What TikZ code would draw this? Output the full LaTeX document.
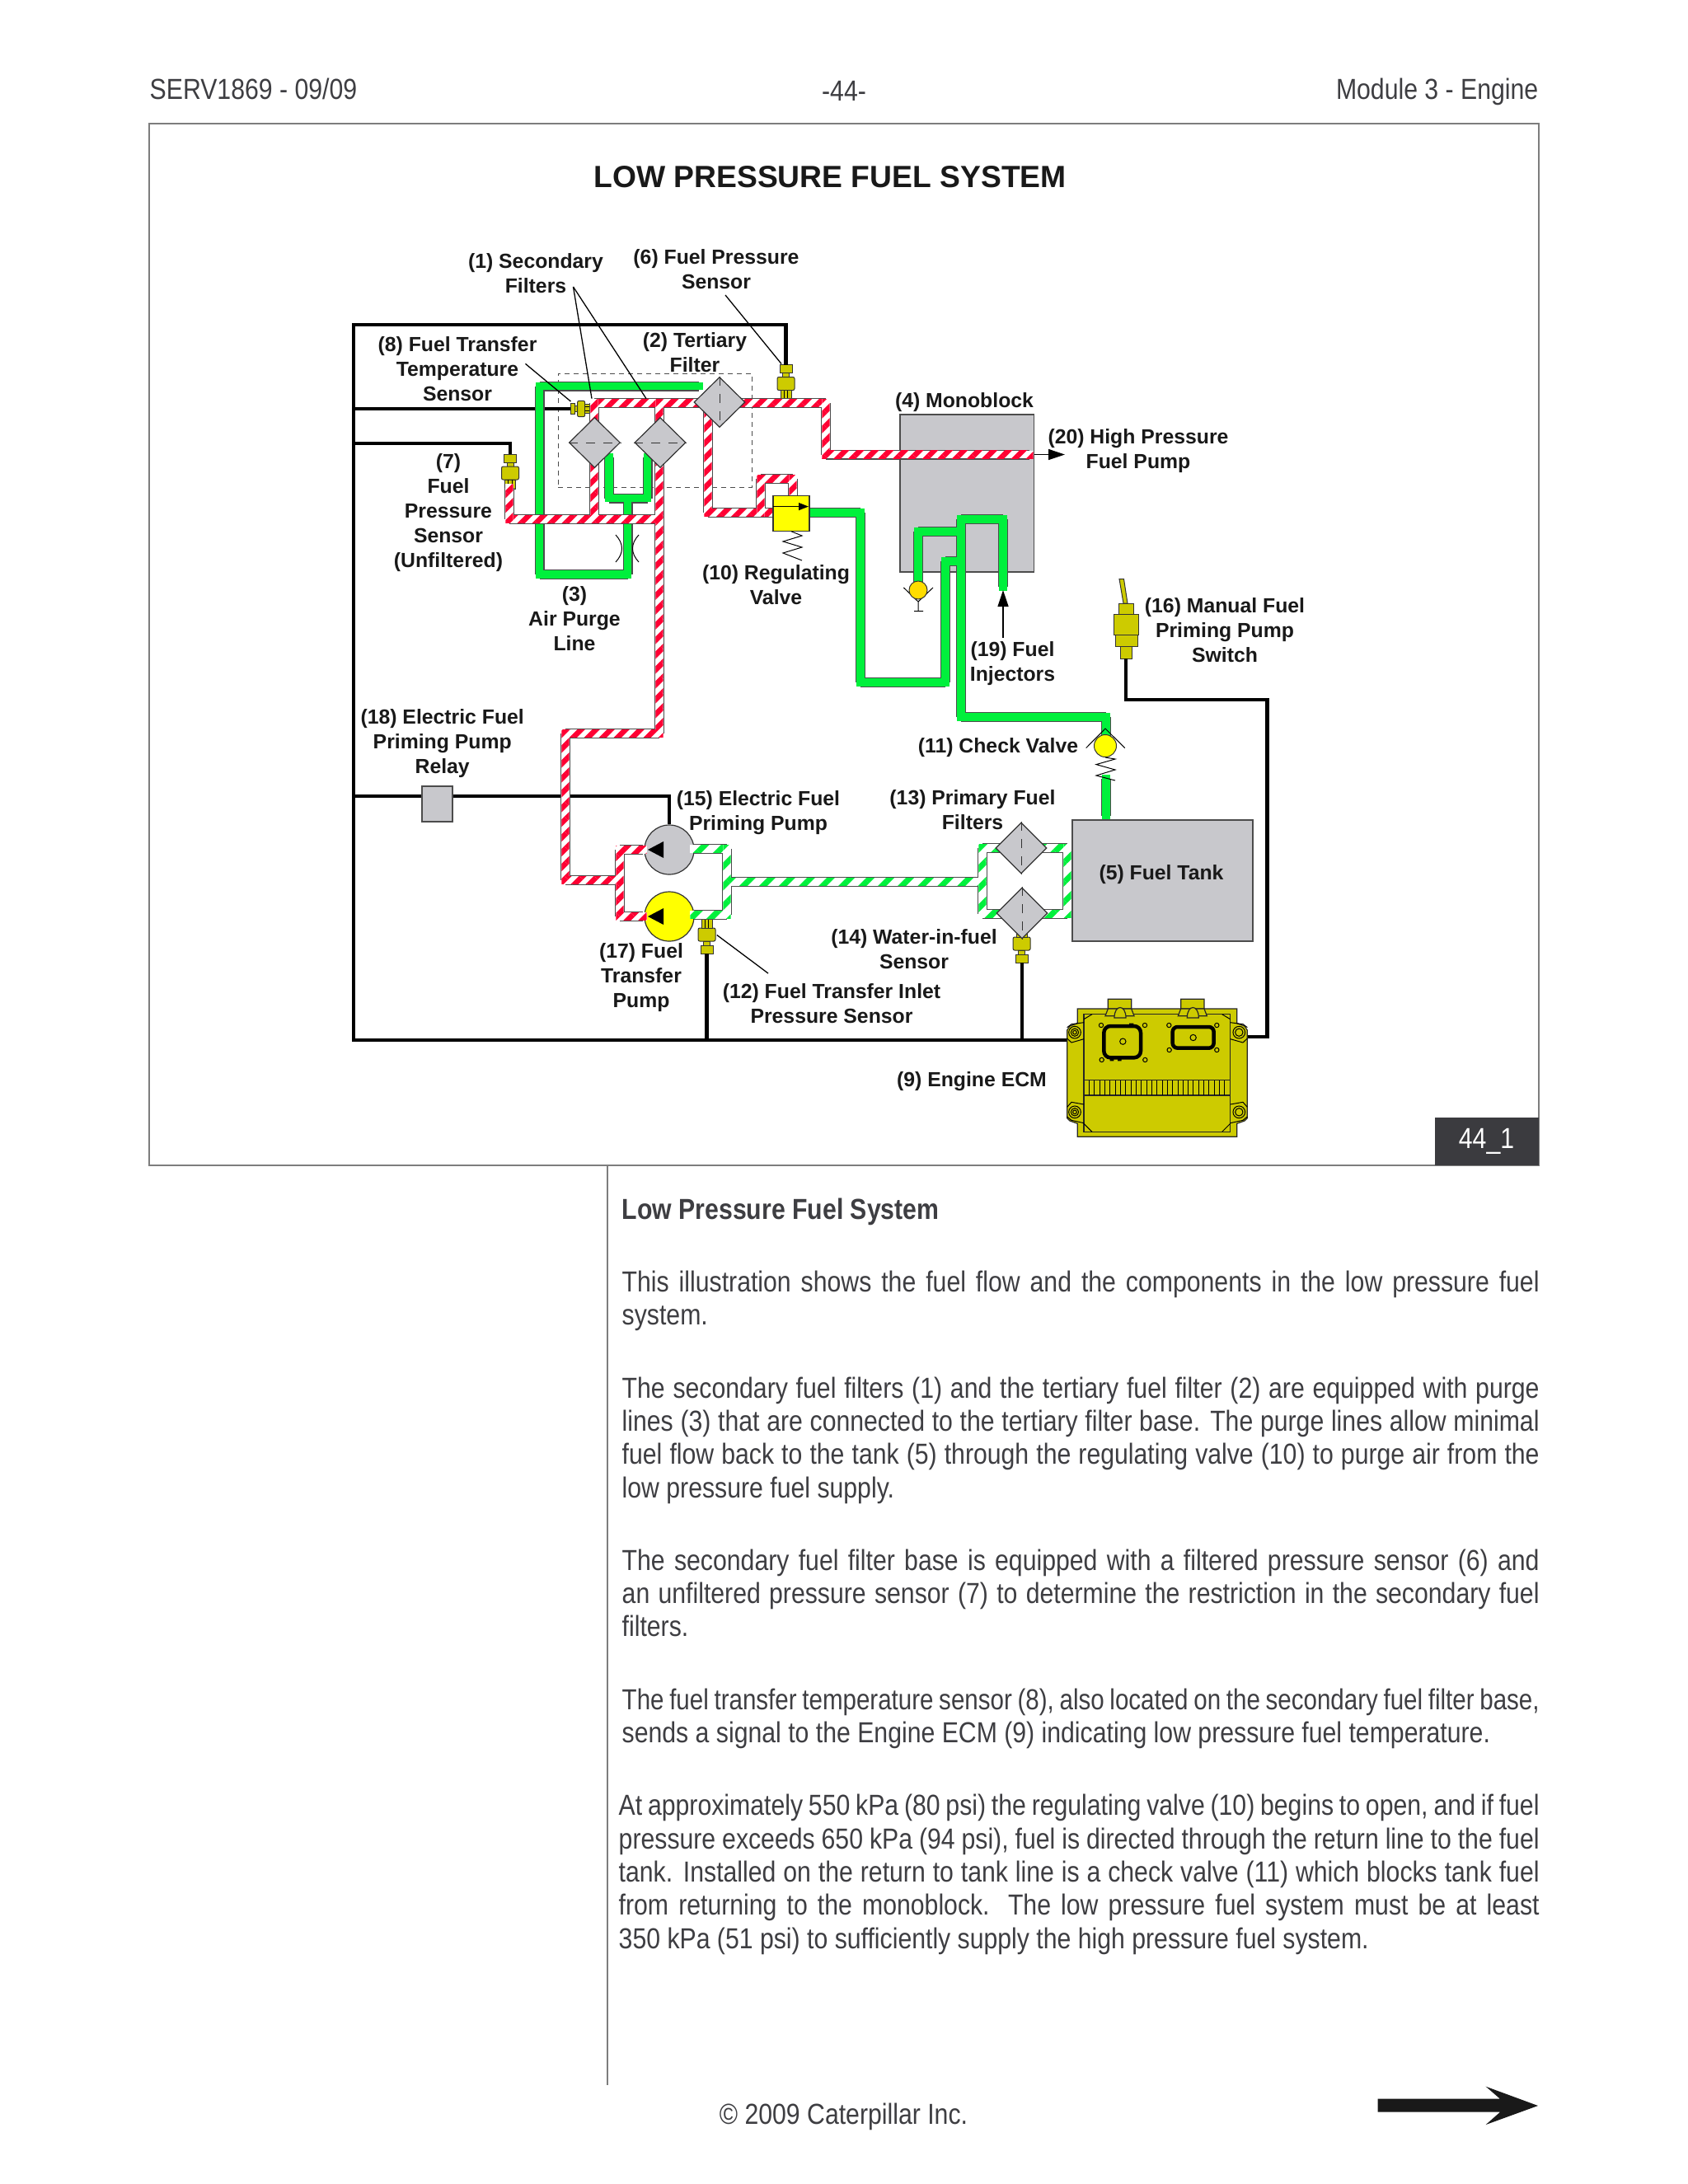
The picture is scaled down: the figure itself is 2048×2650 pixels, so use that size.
\documentclass[tikz,border=0pt]{standalone}
\usepackage{fontspec}
\setmainfont{Liberation Sans}
\newfontfamily\bodyfont[FakeStretch=0.86]{Liberation Sans}
\newfontfamily\tightfont[FakeStretch=0.84]{Liberation Sans}
\usepackage{xcolor}
\usepackage{tikz}
\usetikzlibrary{shapes.geometric, arrows.meta, positioning, calc, patterns.meta}
\definecolor{pipegreen}{RGB}{0, 240, 60}
\definecolor{pipered}{RGB}{255, 0, 51}
\definecolor{partgrey}{RGB}{200, 200, 204}
\definecolor{brassgold}{RGB}{205, 203, 0}
\definecolor{valveyellow}{RGB}{255, 255, 0}
\definecolor{ballyellow}{RGB}{255, 221, 0}
\definecolor{bodygrey}{RGB}{62, 62, 66}
\definecolor{framegrey}{RGB}{125, 125, 125}

% one run of pipe: edges first, then the insides, so that joints stay open
\newcommand{\pipelines}[2]{
  \foreach \a/\b in {#1} {\draw[pipeedge] (\a) -- (\b);}
  \foreach \a/\b in {#1} {\fill[#2] ($(\a)+(-4.7,-4.7)$) rectangle ($(\b)+(4.7,4.7)$);}
}
% threaded sensor, its wire end is the named coordinate
\newcommand{\brass}[4]{
  \begin{scope}[shift={#2}, rotate=#3, #4]
    \coordinate (#1) at (0,0);
    \draw[brasspart] (-7.5,0) rectangle (7.5,10);
    \draw[brasspart] (-4,10) rectangle (4,15);
    \draw[brasspart, rounded corners=0.2mm] (-10.5,15) rectangle (10.5,31);
    \draw[brasspart] (-6.5,31) rectangle (6.5,42);
    \draw[thinline] (-2.2,31) -- (-2.2,42) (2.2,31) -- (2.2,42);
  \end{scope}
}

\begin{document}
\begin{tikzpicture}[
  x=0.1mm, y=-0.1mm,
  lbl/.style={font=\bfseries\fontsize{7.05}{8.54}\selectfont, align=center, inner sep=0pt, text=black!90},
  pagetext/.style={font=\bodyfont\fontsize{10}{11.48}\selectfont, inner sep=0pt, text=bodygrey},
  parabox/.style={pagetext, text width=111.3mm, align=justify, anchor=north west},
  framebox/.style={rectangle, draw=framegrey, line width=0.2mm, inner sep=0pt},
  dashbox/.style={rectangle, draw=black!70, dashed, dash pattern=on 0.6mm off 0.5mm, line width=0.1mm, inner sep=0pt},
  block/.style={rectangle, draw=black!70, fill=partgrey, line width=0.15mm, inner sep=0pt},
  filterbox/.style={diamond, draw=black!80, fill=partgrey, line width=0.12mm, inner sep=0pt, minimum width=6.2mm, minimum height=6.1mm},
  filterdash/.style={black!80, line width=0.1mm, dash pattern=on 1.1mm off 1mm},
  pumpbody/.style={circle, draw=black!80, line width=0.12mm, inner sep=0pt, minimum size=6mm},
  ball/.style={circle, draw=black!80, line width=0.1mm, inner sep=0pt},
  wire/.style={black, line width=0.42mm, line join=miter},
  leader/.style={black, line width=0.13mm},
  thinline/.style={black, line width=0.1mm},
  flowarr/.style={-{Triangle[length=2mm, width=1.3mm]}, black, line width=0.13mm},
  tinyarr/.style={-{Triangle[length=1.2mm, width=0.9mm]}, black, line width=0.13mm},
  brasspart/.style={draw=black!80, fill=brassgold, line width=0.1mm},
  ecmpart/.style={draw=black!85, fill=brassgold, line width=0.12mm},
  pipeedge/.style={black!70, line width=1.2mm, line cap=square},
  solidgreen/.style={pipegreen},
  stripered/.style={preaction={fill=white}, pattern={Lines[angle=45, distance=1.27mm, line width=0.65mm]}, pattern color=pipered},
  stripegreen/.style={preaction={fill=white}, pattern={Lines[angle=45, distance=1.7mm, line width=0.7mm]}, pattern color=pipegreen}
]
\useasboundingbox (0,0) rectangle (2048,2650);
\fill[white] (0,0) rectangle (2048,2650);

% Page header
\node[pagetext, anchor=base west] (hdrleft) at (181,120) {SERV1869 - 09/09};
\node[pagetext] (hdrmid) at (1024,110) {-44-};
\node[pagetext, anchor=base east] (hdrright) at (1867,120) {Module 3 - Engine};

% Frame
\node[framebox, minimum width=168.6mm, minimum height=126.4mm] (frame) at (1024,782) {};
\node[rectangle, fill=bodygrey!95!black, inner sep=0pt, minimum width=12.6mm, minimum height=5.85mm] (tagbox) at (1803.5,1385) {};
\node[pagetext, text=white] (tag) at (tagbox) {44\_1};
\node[font=\bfseries\fontsize{10.6}{13}\selectfont, inner sep=0pt, text=black!90] (title) at (1007,215) {LOW PRESSURE FUEL SYSTEM};
\node[dashbox, minimum width=23.5mm, minimum height=13.8mm] (purgebox) at (794.5,522) {};

% Big parts
\node[block, minimum width=16.25mm, minimum height=19.1mm] (mono) at (1173,598.5) {};

% Wire corners
\coordinate (wtop) at (429,394);
\coordinate (wbot) at (429,1262);
\coordinate (w7) at (429,538);
\coordinate (wrelay) at (429,966);
\coordinate (wsw) at (1537.5,849);
\coordinate (ecmL) at (1296,1262);
\coordinate (ecmR) at (1513,1258);

% Sensors
\node[pumpbody, fill=partgrey] (pumpE) at (812,1031) {};
\node[pumpbody, fill=valveyellow] (pumpT) at (812,1112) {};
\brass{s6}{(953.5,442.5)}{0}{scale=1}
\brass{s7}{(619,551)}{0}{scale=1}
\brass{s8}{(692,496)}{90}{xscale=0.92, yscale=0.57}
\brass{s12}{(857.5,1157)}{180}{scale=1}
\brass{s14}{(1239.6,1168)}{180}{scale=1}

% Switch
\coordinate (sw) at (1366,799);
\draw[brasspart] (1358,702.6) -- (1363.5,702.6) -- (1368,732) -- (1363,732) -- cycle;
\draw[brasspart] (1357,732) rectangle (1375,745.7);
\draw[brasspart] (1351,745.7) rectangle (1381,770);
\draw[brasspart] (1353,770) rectangle (1380,784);
\draw[brasspart] (1359,784) rectangle (1373,799);

% Edges - Wires
\draw[wire] (s6) |- (wtop) -- (wbot) -- (ecmL);
\draw[wire] (wtop |- s8) -- (s8);
\draw[wire] (w7) -| (s7);
\draw[wire] (wrelay) -| (pumpE.north);
\draw[wire] (s12) -- (s12 |- wbot);
\draw[wire] (s14) -- (s14 |- wbot);
\draw[wire] (sw) |- (wsw) |- (ecmR);
\node[block, minimum width=3.7mm, minimum height=4.3mm] (relay) at (530.5,975.5) {};

% Purge lines
\foreach \n/\x/\y in {ga/654.5/468.5, gb/848/468.5, gc/654.5/697, gd/761.5/697, ge/761.5/604.6, gf/739/604.6, gg/785.5/604.6, gh/739/555, gi/785.5/555}
  {\coordinate (\n) at (\x,\y);}
\pipelines{ga/gb, ga/gc, gc/gd, ge/gd, gf/gg, gh/gf, gi/gg}{solidgreen}

% Return to tank
\foreach \n/\x/\y in {ma/982/622, mb/1044/622, mc/1044/828, md/1147/828, me/1147/681, mf/1166/681, mg/1166/630, mh/1217/630, mi/1217/712, mj/1166/870, mk/1342/870, ml/1342/900, mm/1342/945, mn/1342/990, mo/1114/645, mp/1166/645, mq/1114/707}
  {\coordinate (\n) at (\x,\y);}
\pipelines{ma/mb, mb/mc, mc/md, me/md, me/mf, mg/mh, mh/mi, mg/mj, mj/mk, mk/ml, mm/mn, mo/mp, mo/mq}{solidgreen}

% Tank to pumps
\foreach \n/\x/\y in {wa/842/1030, wb/882/1030, wc/882/1110, wd/842/1110, we/882/1070, wf/1192/1070, wg/1192/1029, wh/1192/1109, wi/1295/1029, wj/1295/1109}
  {\coordinate (\n) at (\x,\y);}
\pipelines{wa/wb, wd/wc, wb/wc, we/wf, wg/wh, wg/wi, wh/wj, wi/wj}{stripegreen}
\node[block, minimum width=21.9mm, minimum height=14.7mm] (tank) at (1410.5,1068.5) {};

% Pumps to monoblock
\foreach \n/\x/\y in {ra/721/489, rb/1002/489, rc/1002/551.5, rd/1249/551.5, re/800/489, rf/800/890, rg/686/890, rh/686/1068, ri/752/1068, rj/752/1031, rk/780/1031, rl/752/1112, rm/780/1112, rn/721/630, ro/618/630, rp/800/630, rq/618/592, rs/859/489, rt/859/622, ru/940/622, rv/923/622, rw/923/581, rx/962/581, ry/962/605}
  {\coordinate (\n) at (\x,\y);}
\pipelines{ra/rb, rb/rc, rc/rd, ra/rn, re/rf, rg/rf, rg/rh, rh/ri, rj/rl, rj/rk, rl/rm, ro/rp, rq/ro, rs/rt, rt/ru, rw/rv, rw/rx, rx/ry}{stripered}

% Filters
\node[filterbox] (sec1) at (721.4,537) {};
\node[filterbox] (sec2) at (801,537) {};
\node[filterbox] (tert) at (873,488) {};
\node[filterbox, minimum height=6.2mm] (prim1) at (1239,1029) {};
\node[filterbox, minimum height=6.2mm] (prim2) at (1240,1108) {};
\draw[filterdash] (sec1.west) -- (sec1.east);
\draw[filterdash] (sec2.west) -- (sec2.east);
\draw[filterdash] (tert.north) -- (tert.south);
\draw[filterdash] (prim1.north) -- (prim1.south);
\draw[filterdash] (prim2.north) -- (prim2.south);

% Pump arrows
\fill[black] ($(pumpE)+(-26,0)$) -- ($(pumpE)+(-7,-10)$) -- ($(pumpE)+(-7,10)$) -- cycle;
\fill[black] ($(pumpT)+(-26,0)$) -- ($(pumpT)+(-7,-10)$) -- ($(pumpT)+(-7,10)$) -- cycle;

% Regulating valve
\node[rectangle, draw=black!80, fill=valveyellow, line width=0.12mm, inner sep=0pt, minimum width=4.4mm, minimum height=4.3mm] (regvalve) at (960,622.7) {};
\coordinate (vin) at (938,614.6);
\coordinate (vout) at (981,614.6);
\draw[tinyarr] (vin) -- (vout);
\draw[thinline] (regvalve.south) -- (973,650) -- (950,657) -- (973,664) -- (950,671) -- (973,680);

% Check valves
\draw[thinline] (1096.4,713) -- (1114,730) -- (1132,713) (1114,730) -- (1114,741.7) (1109,741.7) -- (1120,741.7);
\node[ball, fill=ballyellow, minimum size=2.2mm] (ball4) at (1114,716) {};
\draw[thinline] (1317.6,907.6) -- (1341,884) -- (1364.7,907.6);
\node[ball, fill=valveyellow, minimum size=2.7mm] (ball11) at (1341,905) {};
\draw[thinline] (ball11.south) -- (1353,921) -- (1330,927.6) -- (1353,934) -- (1330,941) -- (1353,947);

% Orifice
\draw[thinline] (747,649) .. controls (757,660) and (757,671) .. (747,682);
\draw[thinline] (775,649) .. controls (765,660) and (765,671) .. (775,682);

% Engine ECM
\begin{scope}[shift={(1280,1200)}, scale=0.3333]
  \draw[ecmpart] (193,37) -- (278,37) -- (278,72) -- (288,98) -- (183,98) -- (193,72) -- cycle;
  \draw[ecmpart] (458,37) -- (543,37) -- (543,72) -- (553,98) -- (448,98) -- (458,72) -- cycle;
  \draw[ecmpart] (82,72) -- (193,72) -- (278,72) -- (662,72) -- (662,125) -- (690,135) -- (700,150) -- (700,470) -- (690,480) -- (662,490) -- (662,538) -- (82,538) -- (82,490) -- (54,480) -- (44,470) -- (44,150) -- (54,135) -- (82,125) -- cycle;
  \draw[ecmpart] (105,92) rectangle (638,520);
  \draw[thinline] (105,110) -- (135,92) (638,110) -- (608,92) (105,490) -- (135,520) (638,490) -- (608,520);
  \draw[ecmpart] (193,72) -- (278,72) -- (288,98) -- (183,98) -- cycle;
  \draw[ecmpart] (458,72) -- (543,72) -- (553,98) -- (448,98) -- cycle;
  \draw[ecmpart] (216,105) .. controls (216,55) and (258,55) .. (258,105) -- cycle;
  \draw[ecmpart] (481,105) .. controls (481,55) and (523,55) .. (523,105) -- cycle;
  \draw[thinline] (44,140) -- (60,128) -- (105,122) (44,180) -- (60,195) -- (105,182) (44,430) -- (60,412) -- (105,420) (44,465) -- (60,478) -- (105,488);
  \draw[thinline] (700,140) -- (684,128) -- (638,122) (700,180) -- (684,195) -- (638,182) (700,430) -- (684,412) -- (638,420) (700,465) -- (684,478) -- (638,488);
  \foreach \cx/\cy in {72/158, 72/448} {\draw[thinline] (\cx,\cy) circle (22) (\cx,\cy) circle (14) (\cx,\cy) circle (7);}
  \foreach \cx/\cy in {670/158, 670/448} {\draw[thinline] (\cx,\cy) circle (22) (\cx,\cy) circle (14);}
  \draw[ecmpart] (105,332) rectangle (638,387);
  \foreach \sx in {124,143,...,630} {\draw[thinline] (\sx,332) -- (\sx,387);}
  \draw[black, line width=0.45mm, rounded corners=0.8mm] (178,135) rectangle (312,250);
  \draw[black, line width=0.45mm, rounded corners=0.6mm] (428,138) rectangle (578,215);
  \fill[black] (270,125) rectangle (286,138) (200,250) rectangle (214,262) (228,250) rectangle (242,262);
  \foreach \cx/\cy in {168/132, 327/132, 170/258, 328/258, 415/132, 589/132, 416/222, 589/222} {\draw[thinline] (\cx,\cy) circle (8);}
  \foreach \cx/\cy in {247/191, 503/177} {\draw[thinline] (\cx,\cy) circle (11);}
\end{scope}

% Labels
\node[lbl] (lab1) at (650,332) {(1) Secondary\\Filters};
\node[lbl] (lab6) at (869,327) {(6) Fuel Pressure\\Sensor};
\node[lbl] (lab2) at (843,428) {(2) Tertiary\\Filter};
\node[lbl] (lab8) at (555,447.6) {(8) Fuel Transfer\\Temperature\\Sensor};
\node[lbl] (lab7) at (544,622) {(7)\\Fuel\\Pressure\\Sensor\\(Unfiltered)};
\node[lbl] (lab3) at (697,751) {(3)\\Air Purge\\Line};
\node[lbl] (lab10) at (941.5,710) {(10) Regulating\\Valve};
\node[lbl] (lab4) at (1170,488) {(4) Monoblock};
\node[lbl] (lab20) at (1381,547) {(20) High Pressure\\Fuel Pump};
\node[lbl] (lab19) at (1228.5,805) {(19) Fuel\\Injectors};
\node[lbl] (lab16) at (1486,765) {(16) Manual Fuel\\Priming Pump\\Switch};
\node[lbl] (lab11) at (1211,907) {(11) Check Valve};
\node[lbl] (lab13) at (1180,983) {(13) Primary Fuel\\Filters};
\node[lbl] (lab15) at (920,986) {(15) Electric Fuel\\Priming Pump};
\node[lbl] (lab17) at (778,1186.5) {(17) Fuel\\Transfer\\Pump};
\node[lbl] (lab14) at (1109,1152) {(14) Water-in-fuel\\Sensor};
\node[lbl] (lab12) at (1009,1217.5) {(12) Fuel Transfer Inlet\\Pressure Sensor};
\node[lbl] (lab9) at (1179,1312) {(9) Engine ECM};
\node[lbl] (lab18) at (536.7,902.5) {(18) Electric Fuel\\Priming Pump\\Relay};
\node[lbl] (lab5) at (1409,1061.5) {(5) Fuel Tank};

% Leaders
\coordinate (to1a) at (718,483.6);
\coordinate (to1b) at (784,483.6);
\coordinate (from1) at (695.5,348);
\coordinate (from6) at (880,358);
\coordinate (to6) at (948,441.4);
\coordinate (from8) at (637.5,441.4);
\coordinate (to8) at (692.4,487);
\coordinate (from12) at (932,1181);
\coordinate (to12) at (869.8,1134.5);
\draw[leader] (from1) -- (to1a);
\draw[leader] (from1) -- (to1b);
\draw[leader] (from6) -- (to6);
\draw[leader] (from8) -- (to8);
\draw[leader] (from12) -- (to12);
\coordinate (hpout) at (1292,551.5);
\draw[flowarr] (rd -| mono.east) -- (hpout);
\coordinate (injlab) at (1217,774);
\coordinate (injend) at (1217,716);
\draw[flowarr] (injlab) -- (injend);

% Text column
\coordinate (divend) at (737,2530);
\draw[framegrey, line width=0.2mm] (divend |- frame.south) -- (divend);
\node[pagetext, font=\bodyfont\bfseries\fontsize{10}{11.5}\selectfont, anchor=north west] (head) at (754,1453) {Low Pressure Fuel System};
\node[parabox] (para1) at (754,1541) {This illustration shows the fuel flow and the components in the low pressure fuel\linebreak system.};
\node[parabox] (para2) at (754,1670) {The secondary fuel filters (1) and the tertiary fuel filter (2) are equipped with purge\linebreak lines (3) that are connected to the tertiary filter base.  The purge lines allow minimal\linebreak fuel flow back to the tank (5) through the regulating valve (10) to purge air from the\linebreak low pressure fuel supply.};
\node[parabox] (para3) at (754,1879) {The secondary fuel filter base is equipped with a filtered pressure sensor (6) and\linebreak an unfiltered pressure sensor (7) to determine the restriction in the secondary fuel\linebreak filters.};
\node[parabox] (para4) at (754,2048) {\tolerance=9999\hyphenpenalty=10000{\tightfont\spaceskip=0.2em plus 0.3em minus 0.05em The fuel transfer temperature sensor (8), also located on the secondary fuel filter base,}\linebreak sends a signal to the Engine ECM (9) indicating low pressure fuel temperature.};
\node[parabox, text width=111.7mm] (para5) at (750,2176.5) {At approximately 550 kPa (80 psi) the regulating valve (10) begins to open, and if fuel\linebreak pressure exceeds 650 kPa (94 psi), fuel is directed through the return line to the fuel\linebreak tank.  Installed on the return to tank line is a check valve (11) which blocks tank fuel\linebreak from returning to the monoblock.  The low pressure fuel system must be at least\linebreak 350 kPa (51 psi) to sufficiently supply the high pressure fuel system.};

% Page footer
\node[pagetext] (copyr) at (1023.5,2568) {© 2009 Caterpillar Inc.};
\fill[black!90] (1671.7,2546.7) -- (1820,2546.7) -- (1802.7,2531.7) -- (1866,2555) -- (1802.7,2578) -- (1820,2562.7) -- (1671.7,2562.7) -- cycle;
\end{tikzpicture}
\end{document}
